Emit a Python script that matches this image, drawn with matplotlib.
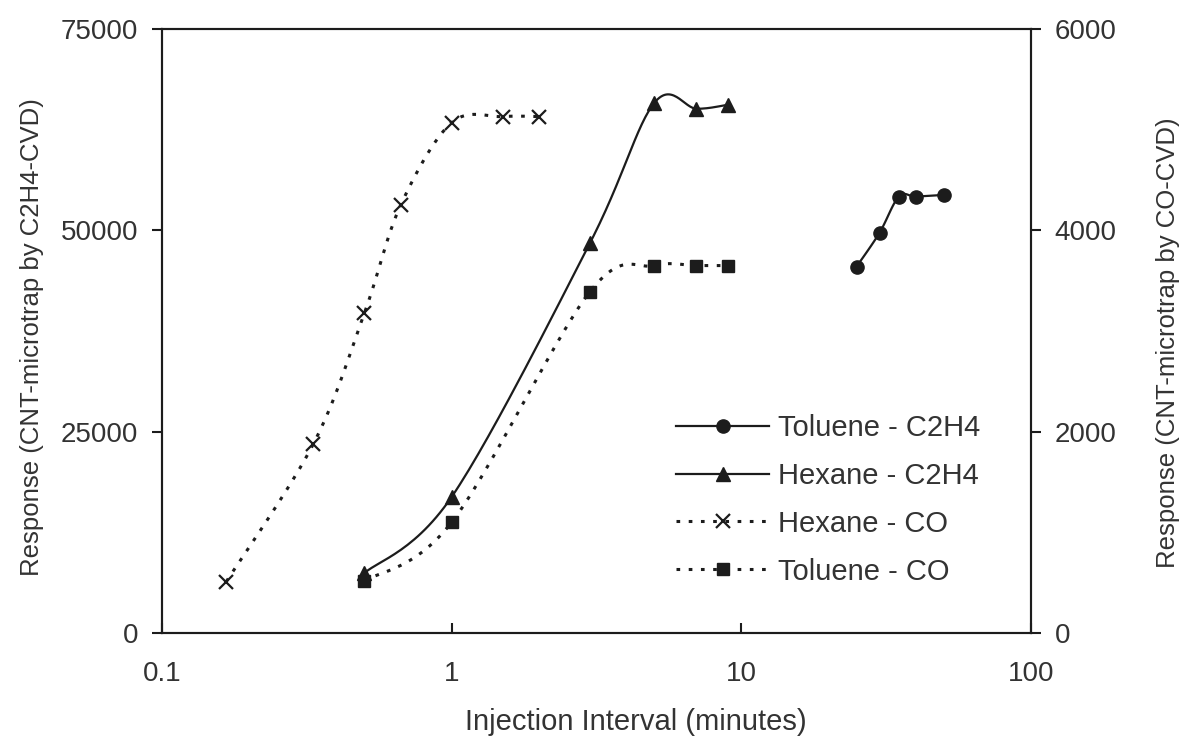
import numpy as np
import matplotlib.pyplot as plt
from matplotlib.ticker import FixedLocator, NullLocator, FixedFormatter

plt.rcParams['font.family'] = ['Liberation Sans', 'DejaVu Sans']

# 数据
tol_c2h4_x = [25, 30, 35, 40, 50]
tol_c2h4_y = [45500, 49700, 54200, 54200, 54400]
hex_c2h4_x = [0.5, 1, 3, 5, 7, 9]
hex_c2h4_y = [7450, 16900, 48400, 65800, 65100, 65600]
hex_co_x = [1/6, 1/3, 0.5, 2/3, 1, 1.5, 2]
hex_co_y = [510, 1880, 3180, 4250, 5070, 5130, 5130]
tol_co_x = [0.5, 1, 3, 5, 7, 9]
tol_co_y = [517, 1100, 3390, 3650, 3650, 3650]

x_ticks = [0.1, 1, 10, 100]
x_labels = ['0.1', '1', '10', '100']
left_ticks = [0, 25000, 50000, 75000]
right_ticks = [0, 2000, 4000, 6000]

labels = ['Toluene - C2H4', 'Hexane - C2H4', 'Hexane - CO', 'Toluene - CO']
ink = '#1c1c1c'
txt = '#333333'


def smooth(x, y, n=30):
    # Excel 风格平滑线（对 log x 做 Catmull-Rom）
    u = np.log10(np.asarray(x, float))
    v = np.asarray(y, float)
    P = np.column_stack([u, v])
    P = np.vstack([P[0], P, P[-1]])
    t = np.linspace(0, 1, n)[:, None]
    segs = []
    for i in range(1, len(P) - 2):
        p0, p1, p2, p3 = P[i-1], P[i], P[i+1], P[i+2]
        c1 = p1 + (p2 - p0) / 6
        c2 = p2 - (p3 - p1) / 6
        b = (1-t)**3*p1 + 3*(1-t)**2*t*c1 + 3*(1-t)*t**2*c2 + t**3*p2
        segs.append(b)
    out = np.vstack(segs)
    marks = [k * n for k in range(len(x) - 1)] + [len(out) - 1]
    return 10**out[:, 0], out[:, 1], marks


fig = plt.figure(figsize=(11.8, 7.36), dpi=100)
ax1 = fig.add_axes([162/1180, 1-633/736, (1031-162)/1180, (633-29)/736])
ax2 = ax1.twinx()

handles = []
sx, sy, mk = smooth(tol_c2h4_x, tol_c2h4_y)
h, = ax1.plot(sx, sy, color=ink, lw=1.6, marker='o', ms=9.5, markevery=mk,
              label=labels[0])
handles.append(h)
sx, sy, mk = smooth(hex_c2h4_x, hex_c2h4_y)
h, = ax1.plot(sx, sy, color=ink, lw=1.6, marker='^', ms=10, markevery=mk,
              label=labels[1])
handles.append(h)
sx, sy, mk = smooth(hex_co_x, hex_co_y)
h, = ax2.plot(sx, sy, color=ink, lw=2.2, ls=(0, (1.2, 2.8)), marker='x', ms=10,
              mew=1.6, markevery=mk, label=labels[2])
handles.append(h)
sx, sy, mk = smooth(tol_co_x, tol_co_y)
h, = ax2.plot(sx, sy, color=ink, lw=2.2, ls=(0, (1.2, 2.8)), marker='s', ms=8,
              markevery=mk, label=labels[3])
handles.append(h)

ax1.set_xscale('log')
ax1.set_xlim(0.1, 100)
ax1.xaxis.set_major_locator(FixedLocator(x_ticks))
ax1.xaxis.set_major_formatter(FixedFormatter(x_labels))
ax1.xaxis.set_minor_locator(NullLocator())
ax1.set_ylim(0, 75000)
ax1.set_yticks(left_ticks)
ax1.set_yticklabels([str(v) for v in left_ticks])
ax2.set_ylim(0, 6000)
ax2.set_yticks(right_ticks)
ax2.set_yticklabels([str(v) for v in right_ticks])

for ax in (ax1, ax2):
    for s in ax.spines.values():
        s.set_linewidth(1.5)
        s.set_color(ink)
ax1.tick_params(axis='x', direction='in', length=7, width=1.5, color=ink,
                labelsize=20, pad=20, labelcolor=txt)
ax1.tick_params(axis='y', direction='out', length=7, width=1.5, color=ink,
                labelsize=20, pad=10, labelcolor=txt)
ax2.tick_params(axis='y', direction='out', length=7, width=1.5, color=ink,
                labelsize=20, pad=10, labelcolor=txt)

ax1.set_xlabel('Injection Interval (minutes)', fontsize=21, color=txt,
               labelpad=15)
ax1.xaxis.label.set_x(0.545)
ax1.set_ylabel('Response (CNT-microtrap by C2H4-CVD)', fontsize=18.5,
               color=txt, labelpad=12)
ax1.yaxis.label.set_y(0.49)
ax2.set_ylabel('Response (CNT-microtrap by CO-CVD)', fontsize=18.5,
               color=txt, labelpad=28)
ax2.yaxis.label.set_y(0.48)

ax2.legend(handles=handles, loc='upper left', bbox_to_anchor=(676/1180, 1-414/736),
           bbox_transform=fig.transFigure, frameon=False, fontsize=21,
           numpoints=1, handlelength=3.2, handletextpad=0.3,
           labelspacing=0.68, borderpad=0, borderaxespad=0, labelcolor=txt)

plt.savefig('out.png', dpi=100)
